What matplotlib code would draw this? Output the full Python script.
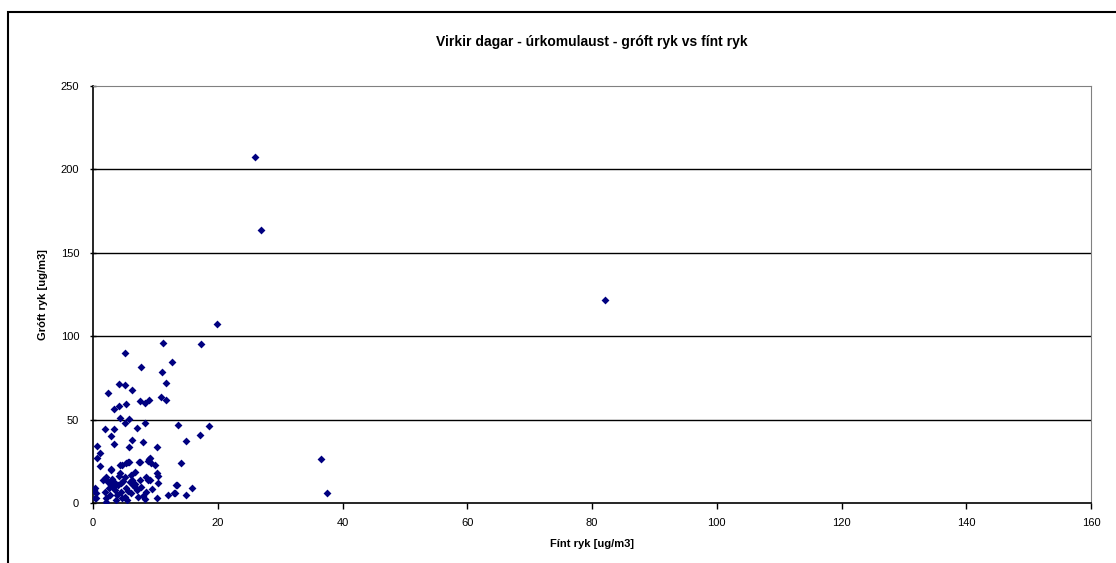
import matplotlib.pyplot as plt
from matplotlib.patches import Rectangle

plt.rcParams['font.family'] = ['Liberation Sans', 'DejaVu Sans']

# fint ryk (x) og groft ryk (y), lesid af myndinni
fint = [26.0, 26.9, 19.9, 82.1, 36.6, 37.5,
        11.3, 17.3, 5.2, 12.6, 7.7, 11.0, 11.7, 4.2, 5.2, 6.2, 2.4, 10.9, 11.7, 7.5,
        8.9, 8.3, 5.3, 4.2, 3.3, 4.3, 5.7, 5.2, 8.3, 2.0, 3.4, 7.0, 13.6, 18.6, 17.2,
        14.9, 2.9, 6.2, 8.0, 3.4, 0.6, 5.7, 10.3, 1.1, 0.6, 9.2, 8.8, 14.1, 9.9, 1.1,
        7.4, 5.6, 4.6, 2.9, 10.4, 13.5, 15.8, 14.9, 13.0, 12.1, 10.2, 8.3, 0.5, 2.1,
        0.2, 6.7, 4.4, 5.3, 5.7, 7.6, 9.0, 9.3, 10.3, 2.9, 2.1, 1.6, 2.4, 4.3, 5.1,
        6.1, 7.5, 8.5, 9.1, 10.4, 0.3, 0.5, 0.3, 1.9, 2.7, 3.5, 4.0, 4.5, 5.3, 6.1,
        6.7, 2.1, 3.7, 5.1, 7.2, 7.7, 8.5, 13.3, 13.1, 8.8, 2.9, 4.5, 5.9, 3.0,
        4.8, 6.4, 3.2, 5.6, 6.8, 4.1, 7.0, 3.9, 4.7, 6.3, 2.6, 3.6, 5.5, 8.0, 9.5]
groft = [207.2, 163.7, 107.3, 121.7, 26.4, 6.0,
         96.1, 95.3, 89.9, 84.5, 81.5, 78.3, 71.8, 71.3, 70.5, 67.7, 65.8, 63.7, 61.9,
         61.0, 61.7, 60.1, 59.2, 58.3, 56.5, 51.1, 50.2, 47.8, 47.8, 44.4, 44.4, 45.0,
         46.8, 46.0, 40.8, 37.4, 40.2, 38.0, 36.8, 35.4, 34.0, 33.8, 33.6, 29.8, 26.8,
         27.2, 25.4, 24.2, 22.6, 22.2, 24.8, 24.4, 22.6, 20.2, 16.4, 10.8, 9.0, 5.0,
         6.0, 5.0, 2.8, 2.6, 2.8, 0.8, 7.8, 18.8, 22.8, 23.8, 24.8, 24.8, 26.2, 23.8,
         18.2, 19.8, 15.8, 13.8, 12.8, 17.8, 15.8, 16.8, 13.8, 15.8, 13.8, 11.8, 8.8,
         5.8, 2.8, 6.8, 4.8, 7.8, 10.8, 6.8, 8.8, 5.8, 9.8, 2.8, 1.8, 3.8, 3.8, 9.8,
         6.8, 11.0, 5.8, 13.8, 10.8, 11.8, 12.8, 14.5, 13.0, 10.5, 9.5, 7.0, 11.5,
         16.0, 8.0, 4.5, 3.0, 14.0, 9.0, 12.0, 1.5, 4.0, 8.5]

xticks = [0, 20, 40, 60, 80, 100, 120, 140, 160]
yticks = [0, 50, 100, 150, 200, 250]

fig = plt.figure(figsize=(11.16, 5.63), dpi=100)
ax = fig.add_axes([93 / 1116, 1 - 503 / 563, 998 / 1116, 417 / 563])

ax.scatter(fint, groft, marker='D', s=16, color='#000080', linewidths=0, zorder=3)

ax.set_xlim(0, 160)
ax.set_ylim(0, 250)
ax.set_xticks(xticks)
ax.set_yticks(yticks)
ax.tick_params(axis='both', labelsize=8, length=4, width=1, colors='black')
ax.tick_params(axis='y', direction='inout', pad=8)
ax.tick_params(axis='x', direction='out', pad=7)

for yv in yticks[1:-1]:
    ax.axhline(yv, color='black', linewidth=1, zorder=1)

ax.spines['top'].set_color('#808080')
ax.spines['right'].set_color('#808080')
for s in ['left', 'bottom']:
    ax.spines[s].set_color('black')
    ax.spines[s].set_linewidth(1.2)

ax.set_title('Virkir dagar - úrkomulaust - gróft ryk vs fínt ryk',
             fontsize=10, fontweight='bold', pad=29)
ax.set_xlabel('Fínt ryk [ug/m3]', fontsize=8, fontweight='bold', labelpad=8)
ax.set_ylabel('Gróft ryk [ug/m3]', fontsize=8, fontweight='bold', labelpad=9)

# rammi utan um alla myndina
fig.patches.append(Rectangle((8 / 1116, -0.1), 1.2, 1 - 12 / 563 + 0.1,
                             transform=fig.transFigure, fill=False,
                             edgecolor='black', linewidth=1.5))

fig.savefig('out.png', dpi=100)
